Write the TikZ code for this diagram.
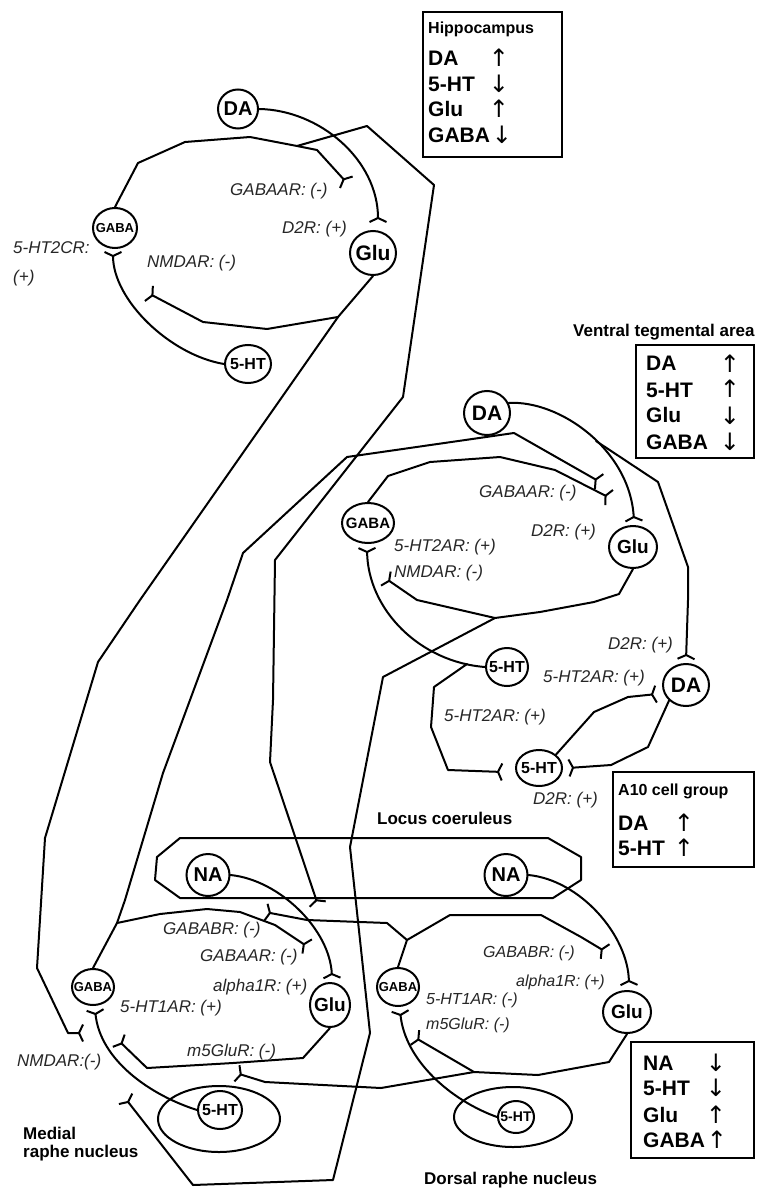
\documentclass[tikz,border=0pt]{standalone}
\usepackage{fontspec}
\setmainfont{Liberation Sans}
\newfontfamily\arrfont{DejaVu Sans}
\usetikzlibrary{shapes.geometric,arrows.meta}
\newcommand\myfs[1]{\fontsize{#1}{#1}\selectfont}
\newcommand\zw[1]{\makebox[0pt]{#1}}
\begin{document}
\begin{tikzpicture}[x=1pt,y=-1pt,
 neur/.style={draw, ellipse, line width=2pt, inner sep=0pt},
 ax/.style={line width=2pt, line join=round, line cap=round},
 rec/.style={ax, -{Straight Barb[reversed,length=4pt,width=17pt]}},
 lab/.style={anchor=west, inner sep=0pt, font=\myfs{17}\itshape, text=black!85},
 labs/.style={anchor=west, inner sep=0pt, font=\myfs{16}\itshape, text=black!85},
 reg/.style={anchor=west, inner sep=0pt, font=\myfs{17}\bfseries},
 bx/.style={draw, line width=1.5pt},
 btx/.style={anchor=west, inner sep=0pt, font=\myfs{21}\bfseries},
 arw/.style={inner sep=0pt, font=\myfs{24}\arrfont},
]
\path[use as bounding box] (0,0) rectangle (762,1190);

% ---------- neurons ----------
\node[neur, minimum width=40pt, minimum height=39pt, font=\myfs{20}\bfseries] (DAh) at (238,109) {\zw{DA}};
\node[neur, minimum width=44pt, minimum height=40pt, font=\myfs{13}\bfseries] (GABAh) at (115,228) {\zw{GABA}};
\node[neur, minimum width=46pt, minimum height=44pt, font=\myfs{21}\bfseries] (Gluh) at (373,253) {\zw{Glu}};
\node[neur, minimum width=46pt, minimum height=38pt, font=\myfs{16}\bfseries] (HTh) at (248,364) {\zw{5-HT}};

\node[neur, minimum width=46pt, minimum height=44pt, font=\myfs{21}\bfseries] (DAv) at (487,413) {\zw{DA}};
\node[neur, minimum width=52pt, minimum height=40pt, font=\myfs{15}\bfseries] (GABAv) at (368,523) {\zw{GABA}};
\node[neur, minimum width=48pt, minimum height=42pt, font=\myfs{19}\bfseries] (Gluv) at (633,547) {\zw{Glu}};
\node[neur, minimum width=42pt, minimum height=38pt, font=\myfs{16}\bfseries] (HTv) at (507,667) {\zw{5-HT}};

\node[neur, minimum width=46pt, minimum height=42pt, font=\myfs{21}\bfseries] (DAa) at (686,685) {\zw{DA}};
\node[neur, minimum width=46pt, minimum height=36pt, font=\myfs{16}\bfseries] (HTa) at (539,768) {\zw{5-HT}};

\node[neur, minimum width=43pt, minimum height=42pt, font=\myfs{20}\bfseries] (NAl) at (208,875) {\zw{NA}};
\node[neur, minimum width=43pt, minimum height=42pt, font=\myfs{20}\bfseries] (NAr) at (506,875) {\zw{NA}};

\node[neur, minimum width=42pt, minimum height=36pt, font=\myfs{13}\bfseries] (GABAm) at (93,987) {\zw{GABA}};
\node[neur, minimum width=40pt, minimum height=44pt, font=\myfs{19}\bfseries] (Glum) at (330,1005) {\zw{Glu}};
\node[neur, minimum width=44pt, minimum height=38pt, font=\myfs{16}\bfseries] (HTm) at (220,1110) {\zw{5-HT}};
\node[neur, minimum width=122pt, minimum height=66pt] (MRe) at (219,1119) {};

\node[neur, minimum width=42pt, minimum height=38pt, font=\myfs{13}\bfseries] (GABAd) at (398,987) {\zw{GABA}};
\node[neur, minimum width=48pt, minimum height=42pt, font=\myfs{19}\bfseries] (Glud) at (627,1012) {\zw{Glu}};
\node[neur, minimum width=36pt, minimum height=32pt, font=\myfs{14}\bfseries] (HTd) at (516,1117) {\zw{5-HT}};
\node[neur, minimum width=118pt, minimum height=60pt] (DRe) at (513,1117) {};

% ---------- junctions ----------
\coordinate (jh1) at (297,146);
\coordinate (jh2) at (338,317);
\coordinate (jv1) at (596,441);
\coordinate (jv2) at (495,618);
\coordinate (jv3) at (467,664);
\coordinate (jm1) at (117,923);
\coordinate (jd1) at (407,940);
\coordinate (jd2) at (474,1072);

% ---------- hippocampus ----------
\draw[rec] (DAh.east) .. controls (320,110) and (378,160) .. (378,223);
\draw[rec] (GABAh.north) -- (138,163) -- (185,142) -- (250,137) -- (jh1) -- (317,150) -- (347,183);
\draw[rec] (jh1) -- (367,126) -- (434,185) -- (403,397) -- (275,560) -- (273,700) -- (270,762) -- (318,905);
\draw[rec] (Gluh.south) -- (jh2) -- (140,600) -- (98,662) -- (45,838) -- (37,968) -- (68,1033) -- (84,1033);
\draw[rec] (jh2) -- (267,329) -- (203,322) -- (148,293);
\draw[rec] (HTh.west) .. controls (170,355) and (113,300) .. (113,251);

% ---------- VTA ----------
\draw[rec] (DAv.25) .. controls (560,400) and (630,450) .. (634,522);
\draw[rec] (jv1) -- (658,482) -- (688,567) -- (688,600) -- (686,660);
\draw[rec] (GABAv.north) -- (388,476) -- (430,462) -- (500,457) -- (555,470) -- (610,498);
\draw[rec] (jm1) -- (125,900) -- (163,773) -- (227,600) -- (243,553) -- (347,457) -- (514,433) -- (600,482);
\draw[rec] (HTv.west) .. controls (420,662) and (368,610) .. (367,547);
\draw[rec] (Gluv.south) -- (619,594) -- (594,602) -- (540,612) -- (jv2) -- (417,600) -- (385,578);
\draw[rec] (jv2) -- (383,677) -- (350,847) -- (370,1033) -- (333,1180) -- (193,1185) -- (125,1098);

% ---------- A10 ----------
\draw[rec] (jv3) -- (434,687) -- (431,727) -- (448,770) -- (503,772);
\draw[rec] (HTa.north east) -- (594,712) -- (628,697) -- (657,694);
\draw[rec] (DAa.south west) -- (648,747) -- (611,765) -- (568,768);

% ---------- locus coeruleus ----------
\draw[ax] (180,838) -- (548,838) -- (581,857) -- (581,880) -- (553,898) -- (180,898) -- (155,880) -- (157,857) -- cycle;
\draw[rec] (NAl.east) .. controls (280,880) and (330,930) .. (332,979);
\draw[rec] (NAr.east) .. controls (580,880) and (628,935) .. (629,986);

% ---------- medial raphe ----------
\draw[rec] (GABAm.north) -- (jm1) -- (160,914) -- (207,909) -- (240,912) -- (275,925) -- (308,947);
\draw[rec] (HTm.west) .. controls (150,1095) and (100,1060) .. (95,1009);
\draw[rec] (Glum.south) -- (303,1058) -- (233,1063) -- (147,1068) -- (118,1040);

% ---------- dorsal raphe ----------
\draw[rec] (GABAd.north) -- (jd1) -- (387,923) -- (307,920) -- (265,912);
\draw[rec] (jd1) -- (450,915) -- (541,915) -- (581,937) -- (606,952);
\draw[rec] (HTd.west) .. controls (450,1100) and (405,1060) .. (400,1010);
\draw[rec] (Glud.south) -- (609,1062) -- (538,1075) -- (jd2) -- (414,1037);
\draw[rec] (jd2) -- (381,1088) -- (265,1082) -- (236,1073);

% ---------- receptor labels ----------
\node[lab] (l1) at (230,191) {GABAAR: (-)};
\node[lab] (l2) at (282,229) {D2R: (+)};
\node[lab] (l3) at (147,263) {NMDAR: (-)};
\node[lab] (l4) at (13,248) {5-HT2CR:};
\node[lab] (l5) at (13,278) {(+)};

\node[lab] (l6) at (479,493) {GABAAR: (-)};
\node[lab] (l7) at (531,532) {D2R: (+)};
\node[lab] (l8) at (394,547) {5-HT2AR: (+)};
\node[lab] (l9) at (394,573) {NMDAR: (-)};

\node[lab] (l10) at (608,645) {D2R: (+)};
\node[lab] (l11) at (543,678) {5-HT2AR: (+)};
\node[lab] (l12) at (444,717) {5-HT2AR: (+)};
\node[lab] (l13) at (533,800) {D2R: (+)};

\node[lab] (l14) at (163,930) {GABABR: (-)};
\node[lab] (l15) at (200,957) {GABAAR: (-)};
\node[lab] (l16) at (213,987) {alpha1R: (+)};
\node[lab] (l17) at (120,1008) {5-HT1AR: (+)};
\node[lab] (l18) at (187,1052) {m5GluR: (-)};
\node[lab] (l19) at (17,1062) {NMDAR:(-)};

\node[labs] (l20) at (483,953) {GABABR: (-)};
\node[labs] (l21) at (516,982) {alpha1R: (+)};
\node[labs] (l22) at (426,1000) {5-HT1AR: (-)};
\node[labs] (l23) at (426,1025) {m5GluR: (-)};

% ---------- region labels ----------
\node[reg] (r1) at (573,332) {Ventral tegmental area};
\node[reg] (r2) at (377,818) {Locus coeruleus};
\node[reg] (r3) at (23,1133) {Medial};
\node[reg] (r4) at (23,1153) {raphe nucleus};
\node[reg] (r5) at (424,1180) {Dorsal raphe nucleus};

% ---------- boxes ----------
\draw[bx] (423,12) rectangle (562,157);
\node[anchor=west, inner sep=0pt, font=\myfs{16}\bfseries] (hbt) at (428,29) {Hippocampus};
\node[btx] (hb1) at (428,58) {DA};
\node[btx] (hb2) at (428,84) {5-HT};
\node[btx] (hb3) at (428,109) {Glu};
\node[btx] (hb4) at (428,135) {GABA};
\node[arw] (ha1) at (499,58) {↑};
\node[arw] (ha2) at (499,84) {↓};
\node[arw] (ha3) at (499,109) {↑};
\node[arw] (ha4) at (502,135) {↓};

\draw[bx] (636,345) rectangle (754,458);
\node[btx] (vb1) at (646,363) {DA};
\node[btx] (vb2) at (646,390) {5-HT};
\node[btx] (vb3) at (646,415) {Glu};
\node[btx] (vb4) at (646,442) {GABA};
\node[arw] (va1) at (730,364) {↑};
\node[arw] (va2) at (730,389) {↑};
\node[arw] (va3) at (730,416) {↓};
\node[arw] (va4) at (730,442) {↓};

\draw[bx] (613,772) rectangle (754,867);
\node[anchor=west, inner sep=0pt, font=\myfs{16}\bfseries] (abt) at (618,791) {A10 cell group};
\node[btx] (ab1) at (618,823) {DA};
\node[btx] (ab2) at (618,848) {5-HT};
\node[arw] (aa1) at (684,823) {↑};
\node[arw] (aa2) at (684,848) {↑};

\draw[bx] (631,1042) rectangle (754,1158);
\node[btx] (db1) at (643,1063) {NA};
\node[btx] (db2) at (643,1088) {5-HT};
\node[btx] (db3) at (643,1115) {Glu};
\node[btx] (db4) at (643,1140) {GABA};
\node[arw] (da1) at (716,1063) {↓};
\node[arw] (da2) at (716,1088) {↓};
\node[arw] (da3) at (716,1115) {↑};
\node[arw] (da4) at (717,1140) {↑};
\end{tikzpicture}
\end{document}
